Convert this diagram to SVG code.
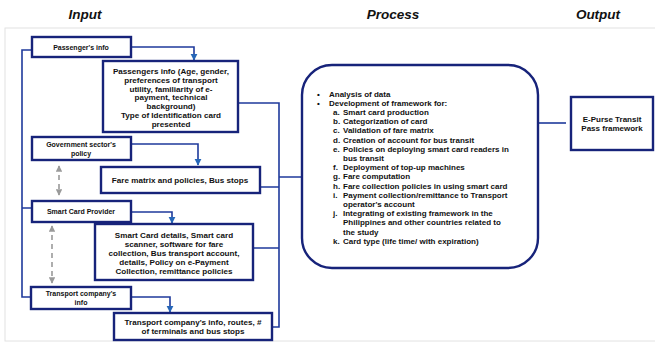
<svg xmlns="http://www.w3.org/2000/svg" width="655" height="344" viewBox="0 0 655 344">
<defs>
<style>
text{font-family:"Liberation Sans",Arial,sans-serif;font-weight:bold;fill:#111;}
.h{font-size:13.5px;font-style:italic;text-anchor:middle;}
.s{font-size:7px;text-anchor:middle;}
.o{font-size:8px;text-anchor:middle;}
.m{font-size:8.1px;text-anchor:middle;}
.p{font-size:8px;}
.box{fill:#fff;stroke:#17237a;stroke-width:2.4;}
.ln{fill:none;stroke:#1f3a9c;stroke-width:1.6;}
.ds{fill:none;stroke:#9a9a9a;stroke-width:1.6;stroke-dasharray:5 4;}
</style>
<marker id="ah" viewBox="0 0 10 10" refX="9" refY="5" markerWidth="4.5" markerHeight="4.5" orient="auto"><path d="M0,0 L10,5 L0,10 z" fill="#2566b8"/></marker>
<marker id="ag" viewBox="0 0 10 10" refX="9" refY="5" markerWidth="4" markerHeight="4" orient="auto-start-reverse"><path d="M0,0 L10,5 L0,10 z" fill="#9a9a9a"/></marker>
</defs>
<rect width="655" height="344" fill="#fff"/>
<rect x="5" y="28" width="660" height="313" fill="none" stroke="#e2e2e2" stroke-width="1"/>
<text class="h" x="85" y="19">Input</text>
<text class="h" x="393" y="19">Process</text>
<text class="h" x="598" y="19">Output</text>

<g id="connectors">
<path class="ln" d="M32,50 H22 V297 H32 M22,208 H32"/>
<path class="ln" d="M131,47 H194 V60" marker-end="url(#ah)"/>
<path class="ln" d="M131,144 H198 V165" marker-end="url(#ah)"/>
<path class="ln" d="M131,212 H172 V223" marker-end="url(#ah)"/>
<path class="ln" d="M131,297 H170 V312" marker-end="url(#ah)"/>
<path class="ds" d="M59,166 V195" marker-start="url(#ag)" marker-end="url(#ag)"/>
<path class="ds" d="M52,226 V283" marker-start="url(#ag)" marker-end="url(#ag)"/>
<path class="ln" d="M238,103 H279 V327 H272 M260,187 H279 M253,248 H279 M279,177 H302"/>
<path class="ln" d="M538,123 H566"/>
</g>

<g id="passenger-info">
<rect class="box" x="32" y="37" width="99" height="20"/>
<text class="s" x="81" y="49.5">Passenger's info</text>
</g>
<g id="passenger-details">
<rect class="box" x="103" y="61" width="135" height="71"/>
<text class="m" x="171" y="74">Passengers info (Age, gender,</text>
<text class="m" x="171" y="82.8">preferences of transport</text>
<text class="m" x="171" y="91.6">utility, familiarity of e-</text>
<text class="m" x="171" y="100.4">payment, technical</text>
<text class="m" x="171" y="109.2">background)</text>
<text class="m" x="171" y="118">Type of Identification card</text>
<text class="m" x="171" y="126.8">presented</text>
</g>
<g id="government-policy">
<rect class="box" x="32" y="137" width="99" height="23"/>
<text class="s" x="81" y="147">Government sector's</text>
<text class="s" x="81" y="155.5">policy</text>
</g>
<g id="fare-matrix">
<rect class="box" x="101" y="167" width="159" height="26"/>
<text class="m" x="180" y="183">Fare matrix and policies, Bus stops</text>
</g>
<g id="smart-card-provider">
<rect class="box" x="32" y="201" width="99" height="21"/>
<text class="s" x="81" y="214">Smart Card Provider</text>
</g>
<g id="smart-card-details">
<rect class="box" x="95" y="224" width="158" height="56"/>
<text class="m" x="174" y="238">Smart Card details, Smart card</text>
<text class="m" x="174" y="247">scanner, software for fare</text>
<text class="m" x="174" y="256">collection, Bus transport account,</text>
<text class="m" x="174" y="265">details, Policy on e-Payment</text>
<text class="m" x="174" y="274">Collection, remittance policies</text>
</g>
<g id="transport-company">
<rect class="box" x="31" y="287" width="100" height="22"/>
<text class="s" x="81" y="296">Transport company's</text>
<text class="s" x="81" y="304.5">info</text>
</g>
<g id="transport-details">
<rect class="box" x="114" y="313" width="158" height="27"/>
<text class="m" x="193" y="325">Transport company's info, routes, #</text>
<text class="m" x="193" y="334">of terminals and bus stops</text>
</g>
<g id="process">
<rect class="box" x="302" y="65" width="236" height="203" rx="30" ry="30"/>
<text class="p" x="317" y="96.5">•</text>
<text class="p" x="329" y="96.5">Analysis of data</text>
<text class="p" x="317" y="105.7">•</text>
<text class="p" x="329" y="105.7">Development of framework for:</text>
<text class="p" x="333" y="114.9">a.</text><text class="p" x="343" y="114.9">Smart card production</text>
<text class="p" x="333" y="124.1">b.</text><text class="p" x="343" y="124.1">Categorization of card</text>
<text class="p" x="333" y="133.3">c.</text><text class="p" x="343" y="133.3">Validation of fare matrix</text>
<text class="p" x="333" y="142.5">d.</text><text class="p" x="343" y="142.5">Creation of account for bus transit</text>
<text class="p" x="333" y="151.7">e.</text><text class="p" x="343" y="151.7">Policies on deploying smart card readers in</text>
<text class="p" x="343" y="160.9">bus transit</text>
<text class="p" x="333" y="170.1">f.</text><text class="p" x="343" y="170.1">Deployment of top-up machines</text>
<text class="p" x="333" y="179.3">g.</text><text class="p" x="343" y="179.3">Fare computation</text>
<text class="p" x="333" y="188.5">h.</text><text class="p" x="343" y="188.5">Fare collection policies in using smart card</text>
<text class="p" x="333" y="197.7">i.</text><text class="p" x="343" y="197.7">Payment collection/remittance to Transport</text>
<text class="p" x="343" y="206.9">operator's account</text>
<text class="p" x="333" y="216.1">j.</text><text class="p" x="343" y="216.1">Integrating of existing framework in the</text>
<text class="p" x="343" y="225.3">Philippines and other countries related to</text>
<text class="p" x="343" y="234.5">the study</text>
<text class="p" x="333" y="243.7">k.</text><text class="p" x="343" y="243.7">Card type (life time/ with expiration)</text>
</g>
<g id="output">
<rect class="box" x="571" y="97" width="82" height="53"/>
<text class="o" x="612" y="122">E-Purse Transit</text>
<text class="o" x="612" y="131">Pass framework</text>
</g>
</svg>
